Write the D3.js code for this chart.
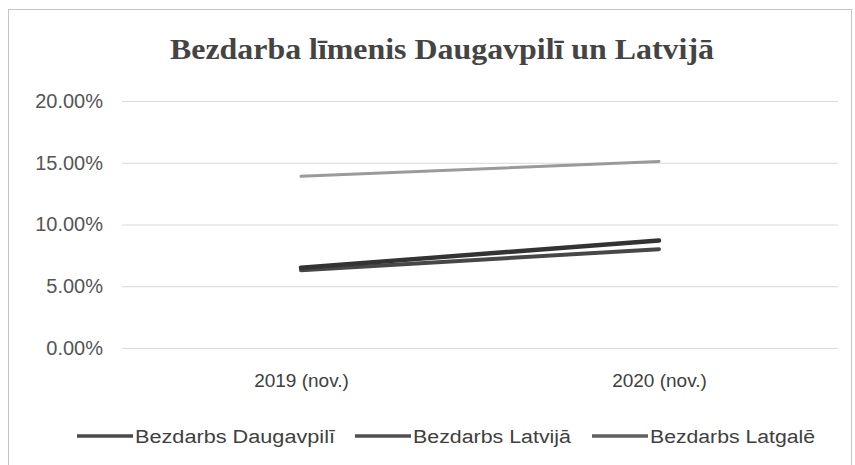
<!DOCTYPE html>
<html>
<head>
<meta charset="utf-8">
<script src="https://cdn.jsdelivr.net/npm/d3@7"></script>
<style>
  body { margin: 0; background: #fff; }
  svg { display: block; }
</style>
</head>
<body>
<div id="chart"></div>
<script>
// chart data
const categories = ['2019 (nov.)', '2020 (nov.)'];
const seriesNames = ['Bezdarbs Daugavpilī', 'Bezdarbs Latvijā', 'Bezdarbs Latgalē'];
const daugavpils = [6.5, 8.7];
const latvija = [6.3, 8.0];
const latgale = [13.9, 15.1];
const yTicks = [0, 5, 10, 15, 20];

const W = 855, H = 465;
const plot = { left: 122, right: 838, top: 101, bottom: 348 };
const colors = ['#333333', '#474747', '#9a9a9a'];
const widths = [4.5, 4, 3];
const legendColors = ['#4a4a4a', '#4f4f4f', '#5f5f5f'];

const svg = d3.select('#chart').append('svg')
  .attr('width', W)
  .attr('height', H);

// outer frame
svg.append('rect')
  .attr('x', 8.5).attr('y', 9.5)
  .attr('width', 843).attr('height', 470)
  .attr('fill', 'none')
  .attr('stroke', '#c4c4c4');

const x = d3.scalePoint()
  .domain(categories)
  .range([plot.left, plot.right])
  .padding(0.5);

const y = d3.scaleLinear()
  .domain([0, 20])
  .range([plot.bottom, plot.top]);

// title
svg.append('text')
  .attr('x', 442).attr('y', 59)
  .attr('text-anchor', 'middle')
  .attr('font-family', 'Liberation Serif, serif')
  .attr('font-weight', 'bold')
  .attr('font-size', 30)
  .attr('fill', '#444444')
  .attr('textLength', 544)
  .attr('lengthAdjust', 'spacingAndGlyphs')
  .text('Bezdarba līmenis Daugavpilī un Latvijā');

// gridlines + y labels
const yAxis = d3.axisLeft(y)
  .tickValues(yTicks)
  .tickSize(-(plot.right - plot.left))
  .tickPadding(19)
  .tickFormat(d => d.toFixed(2) + '%');

const gy = svg.append('g')
  .attr('transform', `translate(${plot.left},0)`)
  .call(yAxis);
gy.select('.domain').remove();
gy.selectAll('.tick line').attr('stroke', '#d9d9d9');
gy.selectAll('.tick text')
  .attr('fill', '#555555')
  .attr('font-family', 'Liberation Sans, sans-serif')
  .attr('font-size', 20);

// x labels
const xAxis = d3.axisBottom(x).tickSize(0).tickPadding(26);
const gx = svg.append('g')
  .attr('transform', `translate(0,${plot.bottom})`)
  .call(xAxis);
gx.select('.domain').remove();
gx.selectAll('.tick text')
  .attr('fill', '#404040')
  .attr('font-family', 'Liberation Sans, sans-serif')
  .attr('font-size', 19);

// series lines
const series = [daugavpils, latvija, latgale];
const line = d3.line()
  .x((d, i) => x(categories[i]))
  .y(d => y(d));

// draw light first so darker ones sit on top
[2, 1, 0].forEach(k => {
  svg.append('path')
    .datum(series[k])
    .attr('d', line)
    .attr('fill', 'none')
    .attr('stroke', colors[k])
    .attr('stroke-width', widths[k])
    .attr('stroke-linecap', 'round');
});

// legend
const legendItems = [
  { x: 77, textLen: 200 },
  { x: 355, textLen: 158 },
  { x: 592, textLen: 165 }
];
const leg = svg.append('g').attr('transform', 'translate(0,436)');
seriesNames.forEach((name, k) => {
  const it = legendItems[k];
  leg.append('line')
    .attr('x1', it.x).attr('x2', it.x + 56)
    .attr('y1', 0).attr('y2', 0)
    .attr('stroke', legendColors[k])
    .attr('stroke-width', 3.5);
  leg.append('text')
    .attr('x', it.x + 58).attr('y', 7)
    .attr('font-family', 'Liberation Sans, sans-serif')
    .attr('font-size', 18)
    .attr('fill', '#404040')
    .attr('textLength', it.textLen)
    .attr('lengthAdjust', 'spacingAndGlyphs')
    .text(name);
});
</script>
</body>
</html>
